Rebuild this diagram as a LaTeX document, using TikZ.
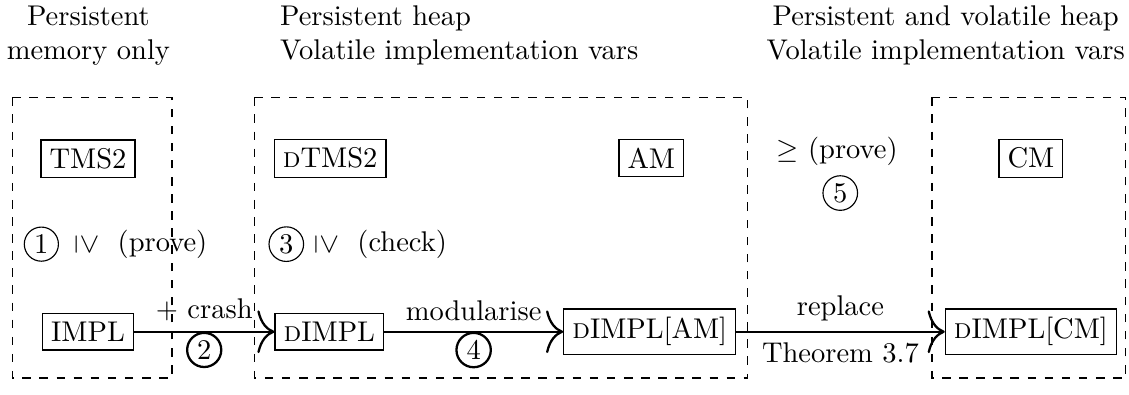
\documentclass[tikz,border=0pt]{standalone}
\usepackage{graphicx}
\usetikzlibrary{arrows.meta,positioning}

\begin{document}
\begin{tikzpicture}[
    comp/.style={rectangle, draw, inner sep=3pt},
    stepnum/.style={circle, draw, inner sep=1.3pt},
    group/.style={draw, dashed},
    flow/.style={thick, -{To[length=6pt, width=15pt]}},
    heading/.style={align=center}
]
\useasboundingbox (0,0) rectangle (13.92,-4.87);

% Regions
\draw[group] (0.15,-1.20) rectangle (2.12,-4.66);
\draw[group] (3.14,-1.20) rectangle (9.22,-4.66);
\draw[group] (11.49,-1.20) rectangle (13.88,-4.66);

% Headings
\node[heading] (hpm) at (1.09,-0.44) {Persistent\\memory only};
\node[heading, align=left, anchor=west] (hph) at (3.33,-0.44) {Persistent heap\\Volatile implementation vars};
\node[heading] (hpv) at (11.66,-0.44) {Persistent and volatile heap\\Volatile implementation vars};

% Specifications and models
\node[comp] (tms) at (1.085,-1.96) {TMS2};
\node[comp] (dtms) at (4.07,-1.95) {\textsc{d}TMS2};
\node[comp] (am) at (8.03,-1.95) {AM};
\node[comp] (cm) at (12.71,-1.95) {CM};

% Implementations
\node[comp] (impl) at (1.085,-4.09) {IMPL};
\node[comp] (dimpl) at (4.06,-4.09) {\textsc{d}IMPL};
\node[comp] (dimplam) at (8.01,-4.09) {\textsc{d}IMPL[AM]};
\node[comp] (dimplcm) at (12.71,-4.09) {\textsc{d}IMPL[CM]};

% Refinement steps
\node[stepnum] (s1) at (0.51,-3.01) {1};
\node (r1) at (1.745,-3.01) {\rotatebox[origin=c]{-90}{$\geq$}\hspace{7pt}(prove)};
\node[stepnum] (s3) at (3.53,-3.01) {3};
\node (r3) at (4.70,-3.01) {\rotatebox[origin=c]{-90}{$\geq$}\hspace{7pt}(check)};
\node (r5) at (10.32,-1.87) {$\geq$ (prove)};
\node[stepnum] (s5) at (10.36,-2.38) {5};

% Transformations
\draw[flow] (impl) -- node[above] (crash) {$+$ crash} node[below, stepnum] (s2) {2} (dimpl);
\draw[flow] (dimpl) -- node[above] (mod) {modularise} node[below, stepnum] (s4) {4} (dimplam);
\draw[flow] (dimplam) -- node[above] (repl) {replace} node[below] (thm) {Theorem 3.7} (dimplcm);

\end{tikzpicture}
\end{document}
